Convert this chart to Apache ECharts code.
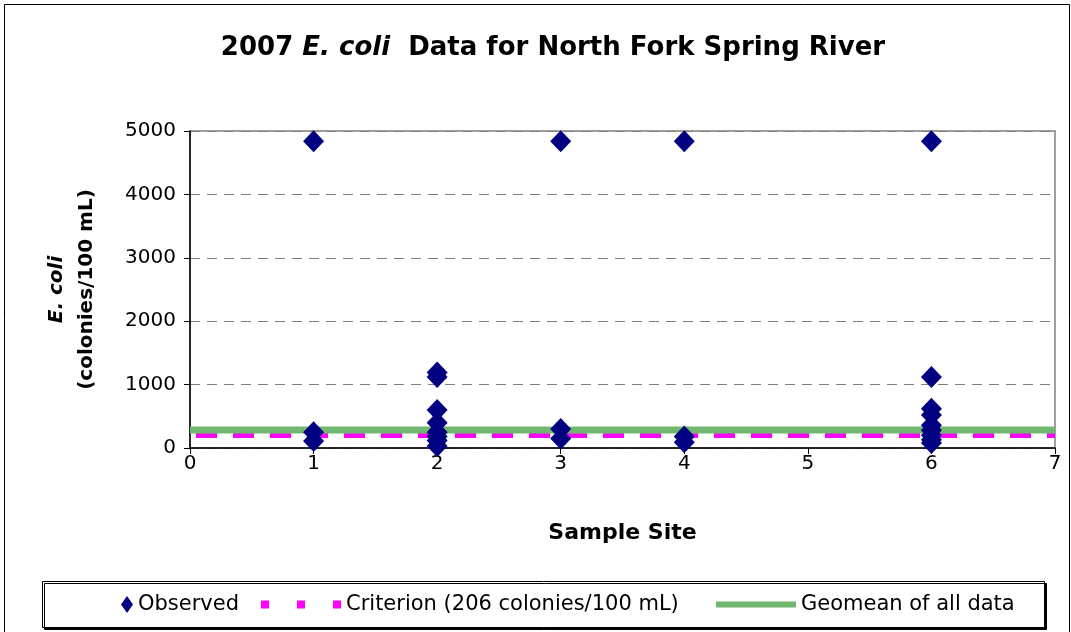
<!DOCTYPE html>
<html>
<head>
<meta charset="utf-8">
<script src="https://cdn.jsdelivr.net/npm/echarts@6/dist/echarts.min.js"></script>
<style>
html,body{margin:0;padding:0;background:#fff;}
#chart{width:1071px;height:632px;}
</style>
</head>
<body>
<div id="chart"></div>
<script>
// ---- data ----
const siteNumbers = [1, 2, 3, 4, 6];
const site1 = [4840, 250, 110];
const site2 = [1190, 1120, 600, 400, 250, 180, 120, 30];
const site3 = [4840, 300, 150];
const site4 = [4840, 180, 90];
const site6 = [4840, 1120, 620, 520, 360, 280, 200, 130, 80];
const criterionValue = 206;
const geomeanValue = 284;
const xRange = [0, 7];
const seriesNames = ['Observed', 'Criterion (206 colonies/100 mL)', 'Geomean of all data'];

const siteValues = [site1, site2, site3, site4, site6];
const observed = [];
siteValues.forEach((vals, i) => vals.forEach(v => observed.push([siteNumbers[i], v])));

const FONT = 'DejaVu Sans';
const chart = echarts.init(document.getElementById('chart'));

chart.setOption({
  backgroundColor: '#fff',
  animation: false,
  textStyle: { fontFamily: FONT, color: '#000' },
  title: {
    text: '{a|2007 }{i|E. coli}{a|  Data for North Fork Spring River}',
    left: 548, top: 30, textAlign: 'center',
    textStyle: {
      rich: {
        a: { fontFamily: FONT, fontWeight: 'bold', fontSize: 26, color: '#000' },
        i: { fontFamily: FONT, fontWeight: 'bold', fontStyle: 'italic', fontSize: 26, color: '#000' }
      }
    }
  },
  grid: {
    left: 190, right: 16, top: 131, bottom: 184,
    show: true, borderColor: '#808080', borderWidth: 1.5, backgroundColor: 'transparent'
  },
  xAxis: {
    type: 'value', min: xRange[0], max: xRange[1], interval: 1,
    name: 'Sample Site', nameLocation: 'middle', nameGap: 74,
    nameTextStyle: { fontFamily: FONT, fontWeight: 'bold', fontSize: 22, color: '#000' },
    axisLine: { show: true, onZero: false, lineStyle: { color: '#000', width: 1.5 } },
    axisTick: { show: true, inside: false, length: 6, lineStyle: { color: '#000' } },
    axisLabel: { fontFamily: FONT, fontSize: 20, color: '#000', margin: 6 },
    splitLine: { show: false }
  },
  yAxis: {
    type: 'value', min: 0, max: 5000, interval: 1000,
    name: '{i|E. coli}\n{b|(colonies/100 mL)}',
    nameLocation: 'middle', nameRotate: 90, nameGap: 88,
    nameTextStyle: {
      lineHeight: 30,
      rich: {
        i: { fontFamily: FONT, fontWeight: 'bold', fontStyle: 'italic', fontSize: 20, color: '#000', lineHeight: 30 },
        b: { fontFamily: FONT, fontWeight: 'bold', fontSize: 20, color: '#000', lineHeight: 30 }
      }
    },
    axisLine: { show: true, lineStyle: { color: '#000', width: 1.5 } },
    axisTick: { show: true, inside: false, length: 6, lineStyle: { color: '#000' } },
    axisLabel: { fontFamily: FONT, fontSize: 20, color: '#000', margin: 14, formatter: v => String(v) },
    splitLine: { show: true, lineStyle: { color: '#808080', type: [10, 7], width: 1 } }
  },
  legend: [
    {
      data: [seriesNames[0]], left: 121, top: 594, padding: 0,
      itemWidth: 12, itemHeight: 17, symbolKeepAspect: false,
      textStyle: { fontFamily: FONT, fontSize: 21, color: '#000' }
    },
    {
      data: [seriesNames[1]], left: 257, top: 594, padding: 0,
      itemWidth: 80, itemHeight: 10,
      itemStyle: { opacity: 0 },
      lineStyle: { type: [8, 28], width: 8, cap: 'butt', dashOffset: 0 },
      textStyle: { fontFamily: FONT, fontSize: 21, color: '#000' }
    },
    {
      data: [seriesNames[2]], left: 713, top: 594, padding: 0,
      itemWidth: 80, itemHeight: 10,
      itemStyle: { opacity: 0 },
      lineStyle: { width: 6, cap: 'butt' },
      textStyle: { fontFamily: FONT, fontSize: 21, color: '#000' }
    }
  ],
  graphic: [
    {
      type: 'rect', left: 2, top: 2, z: -10,
      shape: { width: 1065, height: 660 },
      style: { fill: 'none', stroke: '#000', lineWidth: 1 }
    },
    {
      type: 'rect', left: 42, top: 581, z: -5,
      shape: { width: 1002, height: 46 },
      style: { fill: '#fff', stroke: '#000', lineWidth: 1, shadowColor: '#000', shadowOffsetX: 2, shadowOffsetY: 2, shadowBlur: 0 }
    }
  ],
  series: [
    {
      name: seriesNames[1], type: 'line', symbol: 'none', z: 2,
      data: [[xRange[0], criterionValue], [xRange[1], criterionValue]],
      lineStyle: { color: '#ff00ff', width: 6, type: [21, 16], dashOffset: -6, cap: 'butt' },
      itemStyle: { color: '#ff00ff' }
    },
    {
      name: seriesNames[2], type: 'line', symbol: 'none', z: 3,
      data: [[xRange[0], geomeanValue], [xRange[1], geomeanValue]],
      lineStyle: { color: '#70b870', width: 7 },
      itemStyle: { color: '#70b870' }
    },
    {
      name: seriesNames[0], type: 'scatter', symbol: 'diamond', symbolSize: [21, 22], z: 5,
      data: observed,
      itemStyle: { color: '#000080', opacity: 1 }
    }
  ]
});
</script>
</body>
</html>
